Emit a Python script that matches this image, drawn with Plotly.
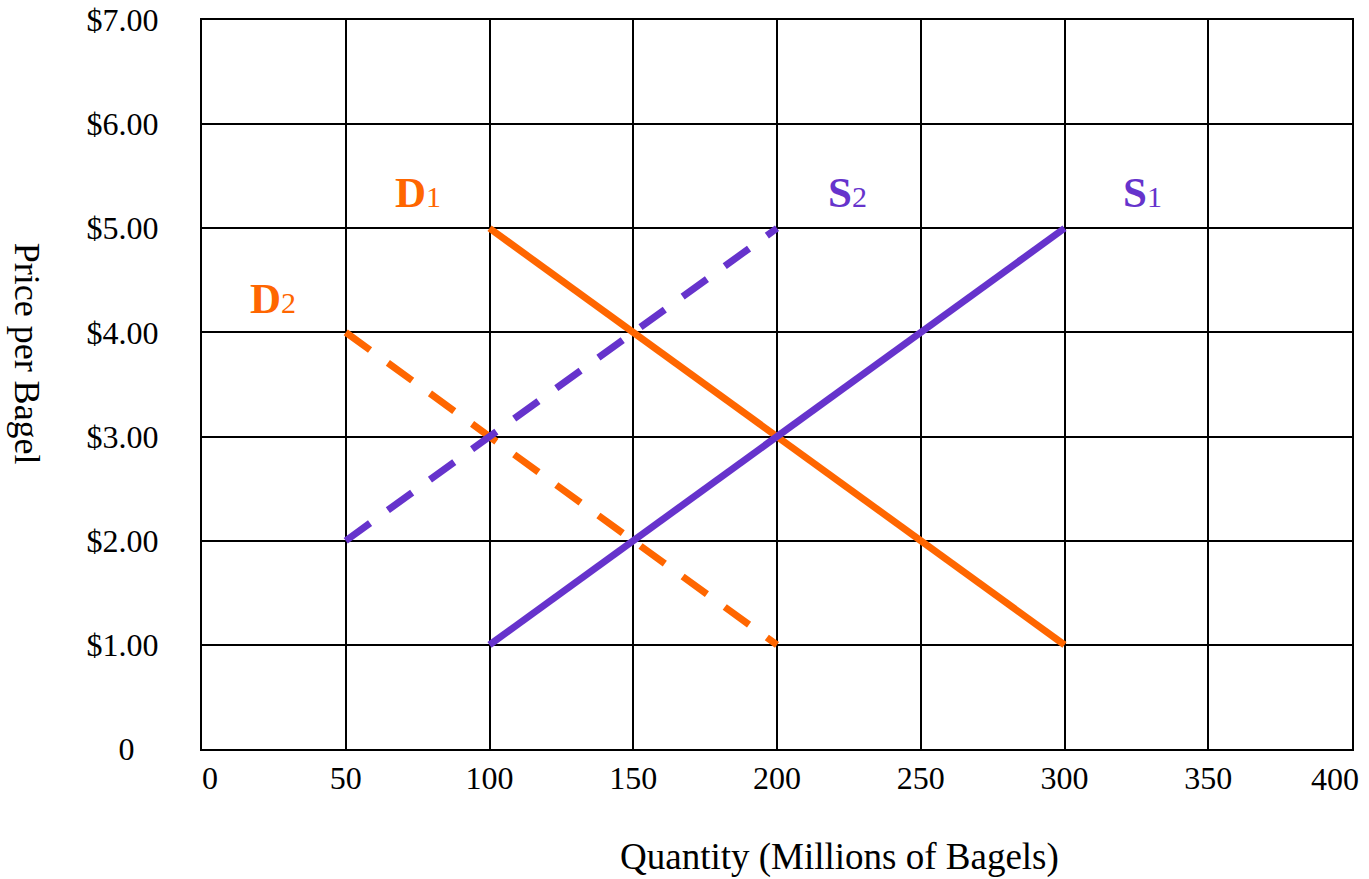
import plotly.graph_objects as go

# Data
d1_q = [100, 300]
d1_p = [5, 1]
s1_q = [100, 300]
s1_p = [1, 5]
d2_q = [50, 200]
d2_p = [4, 1]
s2_q = [50, 200]
s2_p = [2, 5]

x_ticks = [0, 50, 100, 150, 200, 250, 300, 350]
x_ticktext = ["\u20070", "50", "100", "150", "200", "250", "300", "350"]
x_end_tick = [400]
x_end_ticktext = ["400"]
y_ticks = [0, 1, 2, 3, 4, 5, 6, 7]
y_ticktext = ["0\u2007\u2008", "$1.00", "$2.00", "$3.00", "$4.00", "$5.00", "$6.00", "$7.00"]

curve_labels = [
    ("D", "1", 75, 5.34, "#FF6600"),
    ("S", "2", 224.5, 5.34, "#6633CC"),
    ("S", "1", 327, 5.34, "#6633CC"),
    ("D", "2", 24.7, 4.33, "#FF6600"),
]

ORANGE = "#FF6600"
PURPLE = "#6633CC"
FONT = "Liberation Serif, Times New Roman, serif"

fig = go.Figure()
fig.add_trace(go.Scatter(x=d2_q, y=d2_p, mode="lines",
                         line=dict(color=ORANGE, width=7, dash="30px,22px"), name="D2"))
fig.add_trace(go.Scatter(x=s2_q, y=s2_p, mode="lines",
                         line=dict(color=PURPLE, width=7, dash="30px,22px"), name="S2"))
fig.add_trace(go.Scatter(x=d1_q, y=d1_p, mode="lines",
                         line=dict(color=ORANGE, width=7), name="D1"))
fig.add_trace(go.Scatter(x=s1_q, y=s1_p, mode="lines", xaxis="x2",
                         line=dict(color=PURPLE, width=7), name="S1"))

for letter, sub, x, y, col in curve_labels:
    fig.add_annotation(x=x, y=y, xref="x", yref="y",
                       text=f"<b>{letter}</b><span style='font-size:30px'>{sub}</span>",
                       showarrow=False, xanchor="center", yanchor="middle",
                       font=dict(family=FONT, size=43, color=col))

fig.add_annotation(x=-0.152, y=0.542, xref="paper", yref="paper",
                   text="Price per Bagel", textangle=90, showarrow=False,
                   xanchor="center", yanchor="middle",
                   font=dict(family=FONT, size=36, color="black"))
fig.add_annotation(x=0.554, y=-0.148, xref="paper", yref="paper",
                   text="Quantity (Millions of Bagels)", showarrow=False,
                   xanchor="center", yanchor="middle",
                   font=dict(family=FONT, size=37, color="black"))

tickfont = dict(family=FONT, size=32, color="black")

fig.update_layout(
    xaxis=dict(range=[0, 400], tickvals=x_ticks, ticktext=x_ticktext,
               showgrid=True, gridcolor="black", gridwidth=2,
               showline=True, linecolor="black", linewidth=2, mirror=True,
               zeroline=False, ticks="", ticklabelstandoff=0,
               automargin=False, tickfont=tickfont),
    xaxis2=dict(range=[0, 400], matches="x", overlaying="x", anchor="y",
                side="bottom", tickvals=x_end_tick, ticktext=x_end_ticktext,
                showgrid=False, showline=False, zeroline=False, ticks="",
                ticklabelstandoff=8, ticklabelshift=-17,
                automargin=False, tickfont=tickfont),
    yaxis=dict(range=[0, 7], tickvals=y_ticks, ticktext=y_ticktext,
               showgrid=True, gridcolor="black", gridwidth=2,
               showline=True, linecolor="black", linewidth=2, mirror=True,
               zeroline=False, ticks="", ticklabelstandoff=35,
               automargin=False, tickfont=tickfont),
    width=1369, height=879, showlegend=False,
    plot_bgcolor="white", paper_bgcolor="white",
    margin=dict(l=202, r=17, t=20, b=130, autoexpand=False),
)

fig.write_html("out.html")
